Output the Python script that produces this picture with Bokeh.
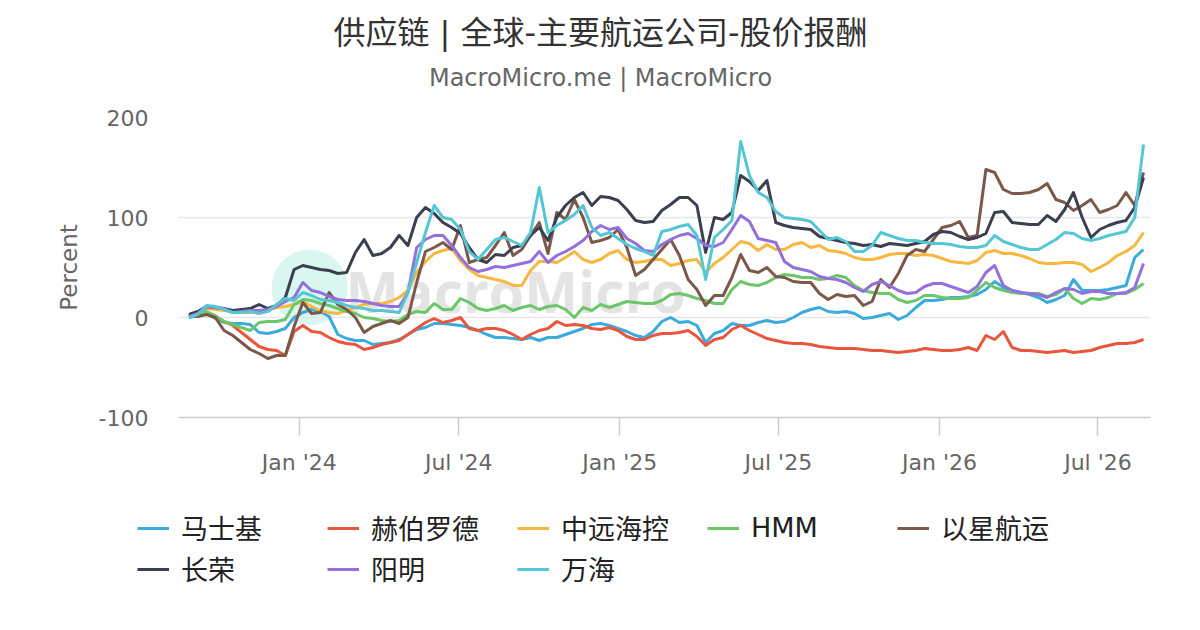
import pandas as pd
from datetime import datetime
from bokeh.plotting import figure
from bokeh.layouts import column
from bokeh.models import (Range1d, FixedTicker, DatetimeTickFormatter, Legend, LegendItem,
                          ColumnDataSource)
from bokeh.embed import file_html
from bokeh.resources import INLINE
from bokeh.core.properties import value

# ---------------- data (percent return, sampled every 10 days) ----------------
dates = pd.date_range("2023-08-28", periods=110, freq="10D")

maersk = [0, 2, 4, -1, -5, -6, -6, -7, -15, -16,
          -14, -11, 0, 5, 8, 6, 1, -17, -21, -23,
          -23, -27, -26, -25, -22, -17, -12, -10, -6, -6,
          -7, -8, -10, -13, -17, -20, -20, -21, -22, -20,
          -23, -20, -20, -17, -14, -11, -7, -6, -8, -11,
          -14, -18, -20, -14, -4, 0, -5, -4, -8, -25,
          -16, -13, -6, -8, -8, -5, -3, -5, -4, 0,
          5, 8, 10, 6, 5, 6, 4, -1, 0, 2,
          4, -2, 2, 10, 17, 17, 18, 20, 20, 21,
          23, 28, 36, 30, 27, 25, 23, 20, 15, 18,
          22, 38, 27, 27, 27, 28, 30, 32, 60, 68]

hapag = [1, 4, 5, 1, -4, -8, -15, -22, -29, -32,
         -33, -38, -14, -8, -14, -15, -20, -24, -26, -27,
         -32, -30, -27, -25, -23, -17, -11, -5, -1, -5,
         -3, 0, -11, -13, -11, -11, -13, -17, -22, -17,
         -13, -11, -4, -8, -7, -8, -11, -12, -10, -13,
         -19, -22, -22, -18, -16, -16, -15, -13, -19, -28,
         -22, -20, -12, -8, -13, -17, -21, -23, -25, -26,
         -26, -27, -29, -30, -31, -31, -31, -32, -33, -33,
         -34, -35, -34, -33, -31, -32, -33, -33, -32, -30,
         -33, -18, -22, -14, -30, -33, -33, -34, -35, -34,
         -33, -35, -34, -33, -30, -28, -26, -26, -25, -22]

cosco = [2, 5, 9, 8, 7, 6, 5, 5, 6, 7,
         10, 11, 13, 16, 11, 7, 5, 4, 7, 10,
         13, 14, 14, 16, 20, 27, 45, 56, 64, 67,
         69, 57, 48, 42, 40, 38, 36, 32, 32, 47,
         56, 56, 55, 60, 66, 58, 55, 58, 64, 67,
         58, 55, 56, 58, 58, 52, 54, 57, 58, 45,
         54, 60, 68, 76, 74, 67, 73, 68, 68, 73,
         75, 70, 72, 67, 66, 64, 60, 58, 58, 60,
         63, 64, 64, 62, 63, 62, 59, 56, 55, 54,
         57, 65, 67, 64, 64, 62, 59, 55, 54, 54,
         55, 55, 53, 46, 50, 55, 62, 66, 72, 85]

hmm = [0, 3, 6, 2, -4, -7, -10, -13, -5, -4,
       -4, -2, 13, 18, 17, 14, 12, 9, 6, 4,
       0, -1, -3, -4, -3, 3, 6, 5, 14, 8,
       8, 19, 15, 9, 7, 9, 12, 7, 10, 12,
       8, 11, 12, 8, 0, 10, 7, 13, 10, 13,
       16, 15, 14, 14, 17, 23, 24, 22, 19, 17,
       14, 14, 28, 36, 33, 32, 35, 40, 43, 42,
       40, 40, 38, 39, 42, 40, 32, 27, 25, 24,
       24, 18, 15, 17, 22, 22, 20, 19, 19, 20,
       27, 35, 30, 27, 25, 24, 24, 24, 21, 23,
       29, 19, 14, 19, 18, 20, 24, 24, 28, 34]

zim = [2, 1, 3, 0, -13, -18, -25, -32, -36, -41,
       -38, -38, -9, 15, 4, 5, 25, 13, 8, 0,
       -15, -9, -6, -3, -6, 0, 35, 66, 70, 75,
       68, 92, 55, 58, 60, 72, 85, 62, 68, 82,
       95, 64, 105, 98, 118, 100, 75, 77, 80, 88,
       70, 42, 48, 58, 68, 78, 62, 38, 28, 12,
       22, 22, 40, 63, 47, 45, 50, 41, 40, 36,
       35, 35, 24, 18, 23, 21, 22, 12, 16, 38,
       30, 44, 62, 68, 66, 78, 90, 92, 96, 80,
       82, 148, 145, 128, 124, 124, 125, 128, 134, 118,
       115, 107, 112, 118, 105, 108, 112, 125, 112, 145]

evergreen = [3, 6, 11, 10, 9, 7, 8, 9, 13, 9,
             12, 20, 48, 52, 50, 48, 47, 44, 45, 65,
             78, 62, 64, 70, 82, 72, 100, 110, 104, 95,
             90, 84, 70, 58, 55, 63, 62, 70, 72, 82,
             90, 77, 100, 112, 120, 125, 112, 121, 120, 117,
             108, 97, 95, 96, 107, 113, 120, 120, 112, 65,
             100, 98, 105, 142, 136, 127, 137, 95, 92, 90,
             89, 88, 81, 79, 77, 75, 74, 72, 73, 71,
             74, 73, 72, 74, 76, 83, 86, 85, 81, 78,
             80, 84, 105, 106, 95, 94, 93, 93, 102, 96,
             108, 125, 100, 80, 88, 92, 95, 97, 110, 140]

yangming = [1, 4, 11, 10, 9, 5, 6, 7, 7, 8,
            11, 16, 20, 35, 27, 25, 21, 18, 17, 17,
            16, 14, 12, 11, 11, 25, 70, 78, 82, 82,
            72, 60, 50, 46, 48, 51, 50, 52, 54, 56,
            66, 55, 62, 66, 71, 77, 86, 92, 88, 90,
            79, 74, 67, 66, 73, 78, 82, 84, 79, 72,
            71, 75, 88, 102, 96, 79, 77, 75, 56, 50,
            48, 46, 41, 39, 38, 35, 30, 26, 33, 36,
            32, 27, 24, 25, 31, 34, 34, 31, 28, 25,
            31, 45, 52, 32, 27, 25, 24, 23, 20, 25,
            29, 28, 24, 26, 26, 24, 24, 25, 30, 54]

wanhai = [0, 3, 12, 11, 8, 5, 5, 6, 4, 6,
          13, 19, 17, 25, 22, 18, 17, 15, 12, 10,
          9, 7, 7, 6, 5, 25, 55, 85, 112, 100,
          98, 88, 66, 58, 68, 78, 80, 76, 72, 85,
          130, 85, 92, 97, 103, 112, 90, 82, 85, 79,
          73, 69, 66, 62, 86, 88, 91, 93, 82, 38,
          80, 88, 97, 176, 142, 125, 120, 106, 100, 99,
          98, 96, 87, 78, 80, 76, 66, 66, 72, 85,
          82, 79, 77, 77, 75, 74, 74, 73, 71, 70,
          70, 72, 82, 76, 73, 70, 68, 68, 73, 78,
          85, 84, 79, 77, 79, 82, 84, 86, 100, 173]

names = ["马士基", "赫伯罗德", "中远海控", "HMM", "以星航运", "长荣", "阳明", "万海"]
series = [maersk, hapag, cosco, hmm, zim, evergreen, yangming, wanhai]
colors = ["#3BAADC", "#E9563C", "#F6B840", "#6CC66A", "#7B5849", "#3B3F4F", "#9370DC", "#55C7D4"]

title_text = "供应链 | 全球-主要航运公司-股价报酬"
subtitle_text = "MacroMicro.me | MacroMicro"

y_ticks = [-100, 0, 100, 200]
x_tick_dates = [datetime(2024, 1, 1), datetime(2024, 7, 1), datetime(2025, 1, 1),
                datetime(2025, 7, 1), datetime(2026, 1, 1), datetime(2026, 7, 1)]

CJK = "DejaVu Sans, Noto Sans CJK SC"
EPOCH = datetime(1970, 1, 1)
W = 1200
FRAME_L, FRAME_R = 178, 1150   # horizontal extent of the plotting frame (pixels)
X_START, X_END = datetime(2023, 8, 16), datetime(2026, 8, 30)

data = {"date": dates}
for n, s in zip(names, series):
    data[n] = s
src = ColumnDataSource(data)

# ---------------- title block (frame aligned with the main chart) ----------------
TOP_H = 100
head = figure(width=W, height=TOP_H, x_range=Range1d(FRAME_L, FRAME_R), y_range=Range1d(0, TOP_H),
              x_axis_type=None, y_axis_type=None, output_backend="svg", toolbar_location=None,
              min_border_left=FRAME_L, min_border_right=W - FRAME_R,
              min_border_top=0, min_border_bottom=0)
head.outline_line_color = None
head.text(x=[W / 2], y=[TOP_H - 32], text=[title_text], text_align="center", text_baseline="middle",
          text_font=value(CJK), text_font_size="32px", text_color="#333333")
head.text(x=[W / 2], y=[TOP_H - 77], text=[subtitle_text], text_align="center", text_baseline="middle",
          text_font=value("DejaVu Sans"), text_font_size="24px", text_color="#666666")

# ---------------- main chart ----------------
MAIN_H = 377
p = figure(width=W, height=MAIN_H, x_axis_type="datetime",
           output_backend="svg", toolbar_location=None,
           x_range=Range1d(X_START, X_END), y_range=Range1d(-100, 200),
           min_border_left=FRAME_L, min_border_right=W - FRAME_R,
           min_border_top=17, min_border_bottom=MAIN_H - 17 - 300)
p.outline_line_color = None
p.background_fill_color = "white"
p.border_fill_color = "white"

p.extra_x_ranges = {"wm_x": Range1d(0, 1)}
p.extra_y_ranges = {"wm_y": Range1d(0, 1)}

# watermark
p.scatter(x=[0.1348], y=[0.4333], size=76, marker="circle", color="#d9f6f0",
          line_color=None, x_range_name="wm_x", y_range_name="wm_y", level="underlay")
p.text(x=[0.1718], y=[0.4233], text=["MacroMicro"], x_range_name="wm_x", y_range_name="wm_y",
       text_font=value("Open Sans"), text_font_style="bold", text_font_size="57px",
       text_color="#e4e4e4", text_baseline="middle", text_align="left", level="underlay")

p.xgrid.grid_line_color = None
p.ygrid.grid_line_color = "#e6e6e6"
p.ygrid.grid_line_width = 1.5
p.ygrid.ticker = FixedTicker(ticks=y_ticks)

p.yaxis.ticker = FixedTicker(ticks=y_ticks)
p.yaxis.major_label_overrides = {t: str(t) for t in y_ticks}
p.yaxis.axis_line_color = None
p.yaxis.major_tick_line_color = None
p.yaxis.minor_tick_line_color = None
p.yaxis.major_tick_out = 0
p.yaxis.major_tick_in = 0
p.yaxis.major_label_standoff = 30
p.yaxis.major_label_text_font = "DejaVu Sans"
p.yaxis.major_label_text_font_size = "22px"
p.yaxis.major_label_text_color = "#666666"
p.yaxis.axis_label = "Percent"
p.yaxis.axis_label_text_font = "DejaVu Sans"
p.yaxis.axis_label_text_font_size = "23px"
p.yaxis.axis_label_text_font_style = "normal"
p.yaxis.axis_label_text_color = "#666666"
p.yaxis.axis_label_standoff = 14

p.xaxis.ticker = FixedTicker(ticks=[(d - EPOCH).total_seconds() * 1000 for d in x_tick_dates])
fmt = "%b '%y"
p.xaxis.formatter = DatetimeTickFormatter(days=fmt, months=fmt, years=fmt, hours=fmt,
                                          minutes=fmt, seconds=fmt, milliseconds=fmt,
                                          microseconds=fmt, minsec=fmt, hourmin=fmt)
p.xaxis.axis_line_color = "#cccccc"
p.xaxis.axis_line_width = 1.5
p.xaxis.major_tick_line_color = "#cccccc"
p.xaxis.major_tick_line_width = 1.5
p.xaxis.major_tick_out = 18
p.xaxis.major_tick_in = 0
p.xaxis.minor_tick_line_color = None
p.xaxis.major_label_standoff = 14
p.xaxis.major_label_text_font = "DejaVu Sans"
p.xaxis.major_label_text_font_size = "22px"
p.xaxis.major_label_text_color = "#666666"

for n, c in zip(names, colors):
    p.line(x="date", y=n, source=src, line_color=c, line_width=3, line_join="round")

# ---------------- legend block (separate root, full-width frame) ----------------
LEG_H = 630 - TOP_H - MAIN_H
leg = figure(width=W, height=LEG_H, x_range=Range1d(X_START, X_END), y_range=Range1d(1000, 1001),
             x_axis_type=None, y_axis_type=None, output_backend="svg", toolbar_location=None,
             min_border=0)
leg.outline_line_color = None
leg.xgrid.visible = False
leg.ygrid.visible = False
items = []
for n, c in zip(names, colors):
    # same series, outside this strip's y-range: only the legend swatch is visible
    r = leg.line(x="date", y=n, source=src, line_color=c, line_width=3)
    items.append(LegendItem(label=n, renderers=[r]))

legend = Legend(items=items, location=(137, 42), orientation="horizontal", ncols=5,
                glyph_width=32, glyph_height=36, label_height=36, label_width=144,
                label_standoff=12, spacing=2, padding=0, margin=0,
                border_line_color=None, background_fill_alpha=0,
                label_text_font=CJK, label_text_font_size="27px", label_text_color="#222222")
leg.add_layout(legend)

chart = column(head, p, spacing=0)
open("out.html", "w").write(file_html([chart, leg], INLINE))
